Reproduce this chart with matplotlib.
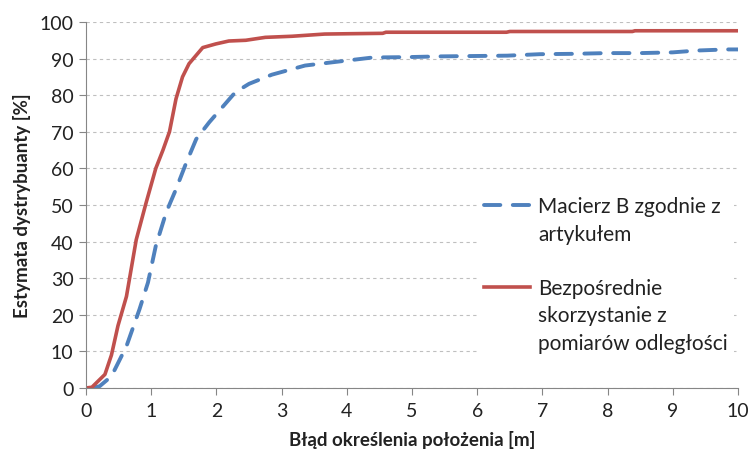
import matplotlib
matplotlib.use('Agg')
import matplotlib.pyplot as plt
from matplotlib.lines import Line2D

plt.rcParams['font.family'] = ['Lato', 'DejaVu Sans']

x_macierz = [0.11, 0.21, 0.39, 0.62, 0.82, 0.95, 1.07, 1.23, 1.38, 1.53, 1.69, 1.89,
             2.09, 2.29, 2.5, 2.85, 3.36, 4.02, 4.4, 4.92, 5.43, 5.94, 6.46, 6.96,
             7.47, 7.99, 8.5, 9.0, 9.37, 9.83, 10.0]
y_macierz = [0, 0.5, 3.2, 11.4, 21.5, 28.8, 38.8, 48, 54.3, 61.2, 68, 72.6,
             76.7, 80.8, 83.1, 85.6, 88.1, 89.5, 90.3, 90.4, 90.6, 90.7, 90.8, 91.2,
             91.3, 91.5, 91.5, 91.7, 92.2, 92.5, 92.5]

x_bezp = [0, 0.09, 0.29, 0.39, 0.49, 0.62, 0.77, 0.92, 1.07, 1.18, 1.28, 1.38, 1.48,
          1.58, 1.79, 1.99, 2.19, 2.45, 2.75, 3.16, 3.66, 4.07, 4.55, 4.6, 6.45, 6.5,
          8.38, 8.42, 10.0]
y_bezp = [0, 0.2, 3.7, 9, 17, 25, 40.5, 50.5, 60, 65, 70, 79, 85,
          88.6, 93, 94, 94.8, 95, 95.8, 96.1, 96.7, 96.8, 96.9, 97.2, 97.2, 97.4,
          97.4, 97.6, 97.6]

labels = ['Macierz B zgodnie z\nartykułem',
          'Bezpośrednie\nskorzystanie z\npomiarów odległości']

fig = plt.figure(figsize=(7.5, 4.56), dpi=100)
ax = fig.add_axes([0.1147, 0.147, 0.8693, 0.8026])

l1, = ax.plot(x_macierz, y_macierz, color='#4F81BD', lw=2.8, dashes=(4.2, 3.2),
              dash_capstyle='round')
l2, = ax.plot(x_bezp, y_bezp, color='#C0504D', lw=2.6)

ax.set_xlim(0, 10)
ax.set_ylim(0, 100)
ax.set_xticks(range(0, 11))
ax.set_yticks(range(0, 101, 10))
ax.yaxis.grid(True, color='#BFBFBF', linestyle=(0, (3, 3)), lw=0.8)
ax.set_axisbelow(True)
for s in ['top', 'right']:
    ax.spines[s].set_visible(False)
for s in ['left', 'bottom']:
    ax.spines[s].set_color('#868686')
ax.tick_params(colors='#868686', labelcolor='#222222', labelsize=14,
               length=5, direction='out')
ax.tick_params(axis='x', pad=5)
ax.tick_params(axis='y', pad=4)

ax.set_xlabel('Błąd określenia położenia [m]', fontsize=13.5, fontweight='bold',
              color='#222222', labelpad=8)
ax.set_ylabel('Estymata dystrybuanty [%]', fontsize=13.5, fontweight='bold',
              color='#222222', labelpad=6)

# Excel-style legend: handle on the first line of each wrapped label
blank = Line2D([], [], color='none')
handles, texts = [], []
for i, (h, lab) in enumerate(zip([l1, l2], labels)):
    if i > 0:
        handles.append(blank)
        texts.append(' ')
    for j, part in enumerate(lab.split('\n')):
        handles.append(h if j == 0 else blank)
        texts.append(part)

leg = ax.legend(handles, texts, loc='center left', bbox_to_anchor=(0.585, 0.31),
                fontsize=15, frameon=True, facecolor='white', edgecolor='none',
                framealpha=1, handlelength=2.2, handletextpad=0.4,
                labelspacing=0.35, borderpad=0.3)
for t in leg.get_texts():
    t.set_color('#222222')

fig.savefig('out.png', dpi=100)
